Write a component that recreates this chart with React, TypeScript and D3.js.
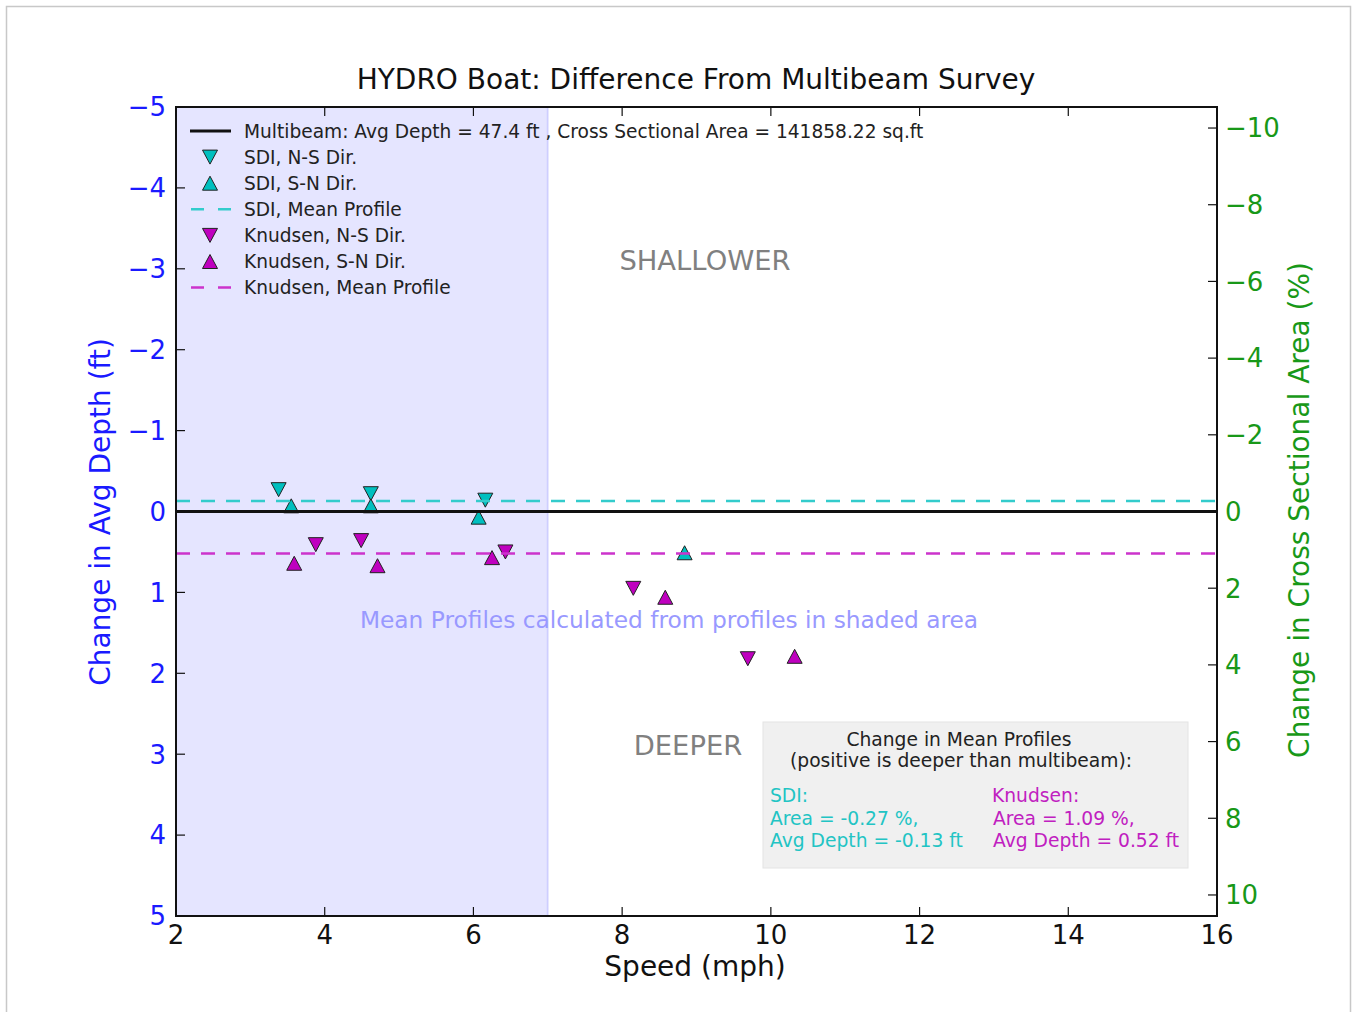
import React from "react";
import * as d3 from "d3";

// ---- data ----
const sdiNSx = [3.38, 4.62, 6.16];
const sdiNSy = [-0.27, -0.22, -0.14];
const sdiSNx = [3.55, 4.62, 6.07, 8.84];
const sdiSNy = [-0.07, -0.07, 0.07, 0.51];
const knNSx = [3.88, 4.49, 6.43, 8.15, 9.69];
const knNSy = [0.41, 0.36, 0.5, 0.95, 1.82];
const knSNx = [3.59, 4.71, 6.25, 8.58, 10.32];
const knSNy = [0.64, 0.67, 0.57, 1.06, 1.79];
const sdiMean = -0.13;
const knMean = 0.52;
const multibeamDepth = 47.4;
const shadeRange = [2, 7];
const xTicks = [2, 4, 6, 8, 10, 12, 14, 16];
const yLeftTicks = [-5, -4, -3, -2, -1, 0, 1, 2, 3, 4, 5];
const yRightTicks = [-10, -8, -6, -4, -2, 0, 2, 4, 6, 8, 10];
const legendLabels = [
  "Multibeam: Avg Depth = 47.4 ft , Cross Sectional Area = 141858.22 sq.ft",
  "SDI, N-S Dir.",
  "SDI, S-N Dir.",
  "SDI, Mean Profile",
  "Knudsen, N-S Dir.",
  "Knudsen, S-N Dir.",
  "Knudsen, Mean Profile",
];

const CYAN = "#00bfbf";
const MAG = "#bf00bf";
const BLUE = "#1a1aff";
const GREEN = "#189818";
const FONT = "'DejaVu Sans', sans-serif";

const L = 176, R = 1217, T = 107, B = 916;

const fmt = (v: number) => (v < 0 ? "\u2212" + Math.abs(v) : String(v));

function Tri({ x, y, down, fill }: { x: number; y: number; down: boolean; fill: string }) {
  const w = 7.5, h = 7;
  const p = down
    ? `M${x - w},${y - h}L${x + w},${y - h}L${x},${y + h}Z`
    : `M${x - w},${y + h}L${x + w},${y + h}L${x},${y - h}Z`;
  return <path d={p} fill={fill} stroke="#222" strokeWidth={1} />;
}

export default function App() {
  const x = d3.scaleLinear().domain([2, 16]).range([L, R]);
  const y = d3.scaleLinear().domain([-5, 5]).range([T, B]);
  const pct = (5 / multibeamDepth) * 100;
  const yR = d3.scaleLinear().domain([-pct, pct]).range([T, B]);

  const series = [
    { xs: sdiNSx, ys: sdiNSy, down: true, fill: CYAN },
    { xs: sdiSNx, ys: sdiSNy, down: false, fill: CYAN },
    { xs: knNSx, ys: knNSy, down: true, fill: MAG },
    { xs: knSNx, ys: knSNy, down: false, fill: MAG },
  ];

  const legY0 = 131, legDy = 26.1;

  return (
    <svg
      width={1353}
      height={1012}
      style={{ position: "absolute", left: 0, top: 0, background: "#fff" }}
      fontFamily={FONT}
    >
      <rect x={6.5} y={6.5} width={1344} height={1020} fill="#fff" stroke="#c8c8c8" strokeWidth={1.5} />
      {/* shaded area */}
      <rect
        x={x(shadeRange[0])}
        y={T}
        width={x(shadeRange[1]) - x(shadeRange[0])}
        height={B - T}
        fill="rgba(0,0,255,0.1)"
        stroke="rgba(0,0,255,0.12)"
        strokeWidth={2}
      />
      {/* markers */}
      {series.map((s, i) =>
        s.xs.map((xv, j) => <Tri key={i + "-" + j} x={x(xv)} y={y(s.ys[j])} down={s.down} fill={s.fill} />)
      )}
      {/* lines */}
      <line x1={L} x2={R} y1={y(0)} y2={y(0)} stroke="#111" strokeWidth={3} />
      <line x1={L} x2={R} y1={y(sdiMean)} y2={y(sdiMean)} stroke="#33cccc" strokeWidth={2.5} strokeDasharray="14,11" />
      <line x1={L} x2={R} y1={y(knMean)} y2={y(knMean)} stroke="#cc33cc" strokeWidth={2.5} strokeDasharray="14,11" />

      {/* annotations */}
      <text x={705} y={260} textAnchor="middle" dy="0.36em" fontSize={27.4} fill="#808080">SHALLOWER</text>
      <text x={688} y={745} textAnchor="middle" dy="0.36em" fontSize={27.4} fill="#808080">DEEPER</text>
      <text x={669} y={620} textAnchor="middle" dy="0.36em" fontSize={23.3} fill="#9999ff">
        Mean Profiles calculated from profiles in shaded area
      </text>

      {/* info box */}
      <rect x={763} y={722} width={425} height={146} fill="#f0f0f0" stroke="#e4e4e4" strokeWidth={1} />
      <g fontSize={18.7}>
        <text x={959} y={739} textAnchor="middle" dy="0.36em" fill="#222">Change in Mean Profiles</text>
        <text x={961} y={760} textAnchor="middle" dy="0.36em" fill="#222">(positive is deeper than multibeam):</text>
        <text x={770} y={795} dy="0.36em" fill="#22c4c4">SDI:</text>
        <text x={770} y={818} dy="0.36em" fill="#22c4c4">Area = -0.27 %,</text>
        <text x={770} y={840} dy="0.36em" fill="#22c4c4">Avg Depth = -0.13 ft</text>
        <text x={992} y={795} dy="0.36em" fill="#c020c0">Knudsen:</text>
        <text x={993} y={818} dy="0.36em" fill="#c020c0">Area = 1.09 %,</text>
        <text x={993} y={840} dy="0.36em" fill="#c020c0">Avg Depth = 0.52 ft</text>
      </g>

      {/* legend */}
      <g fontSize={18.6} fill="#222">
        <line x1={190} x2={231} y1={legY0} y2={legY0} stroke="#111" strokeWidth={3} />
        <Tri x={210} y={legY0 + legDy} down={true} fill={CYAN} />
        <Tri x={210} y={legY0 + 2 * legDy} down={false} fill={CYAN} />
        <line x1={191} x2={231} y1={legY0 + 3 * legDy} y2={legY0 + 3 * legDy} stroke="#33cccc" strokeWidth={2.5} strokeDasharray="13,14" />
        <Tri x={210} y={legY0 + 4 * legDy} down={true} fill={MAG} />
        <Tri x={210} y={legY0 + 5 * legDy} down={false} fill={MAG} />
        <line x1={191} x2={231} y1={legY0 + 6 * legDy} y2={legY0 + 6 * legDy} stroke="#cc33cc" strokeWidth={2.5} strokeDasharray="13,14" />
        {legendLabels.map((t, i) => (
          <text key={t} x={244} y={legY0 + i * legDy} dy="0.36em">{t}</text>
        ))}
      </g>

      {/* frame */}
      <rect x={L} y={T} width={R - L} height={B - T} fill="none" stroke="#111" strokeWidth={2} />

      {/* x ticks */}
      {xTicks.map((t) => (
        <g key={"x" + t}>
          <line x1={x(t)} x2={x(t)} y1={B} y2={B - 9} stroke="#111" strokeWidth={1.2} />
          <line x1={x(t)} x2={x(t)} y1={T} y2={T + 9} stroke="#111" strokeWidth={1.2} />
          <text x={x(t)} y={944} textAnchor="middle" fontSize={26} fill="#111">{fmt(t)}</text>
        </g>
      ))}
      {/* left ticks */}
      {yLeftTicks.map((t) => (
        <g key={"yl" + t}>
          <line x1={L} x2={L + 9} y1={y(t)} y2={y(t)} stroke="#111" strokeWidth={1.2} />
          <text x={166} y={y(t)} dy="0.36em" textAnchor="end" fontSize={26} fill={BLUE}>{fmt(t)}</text>
        </g>
      ))}
      {/* right ticks */}
      {yRightTicks.map((t) => (
        <g key={"yr" + t}>
          <line x1={R} x2={R - 9} y1={yR(t)} y2={yR(t)} stroke="#111" strokeWidth={1.2} />
          <text x={1225} y={yR(t)} dy="0.36em" textAnchor="start" fontSize={26} fill={GREEN}>{fmt(t)}</text>
        </g>
      ))}

      {/* titles */}
      <text x={696} y={89} textAnchor="middle" fontSize={28} fill="#111">
        HYDRO Boat: Difference From Multibeam Survey
      </text>
      <text x={695} y={976} textAnchor="middle" fontSize={28} fill="#111">Speed (mph)</text>
      <text transform={`translate(100,512) rotate(-90)`} textAnchor="middle" dy="0.36em" fontSize={28} fill={BLUE}>
        Change in Avg Depth (ft)
      </text>
      <text transform={`translate(1299,510) rotate(-90)`} textAnchor="middle" dy="0.36em" fontSize={28} fill={GREEN}>
        Change in Cross Sectional Area (%)
      </text>
    </svg>
  );
}
